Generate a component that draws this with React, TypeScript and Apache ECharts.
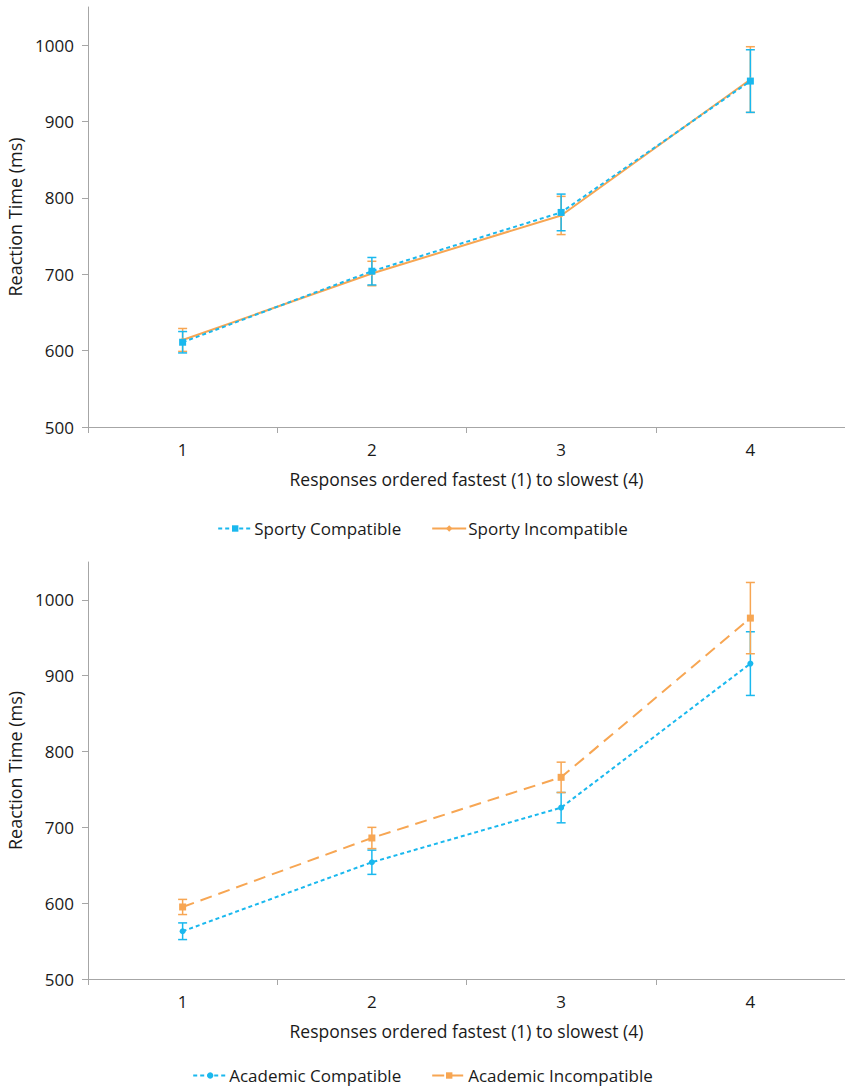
import React, { useEffect, useRef } from "react";
import * as echarts from "echarts";

const categories = ["1", "2", "3", "4"];
const yTicks = [500, 600, 700, 800, 900, 1000];

const sportyCompatible = [611, 704, 781, 953];
const sportyCompatibleErr = [14, 18, 24, 41];
const sportyIncompatible = [614, 701, 777, 955];
const sportyIncompatibleErr = [15, 16, 25, 43];

const academicCompatible = [563, 654, 726, 916];
const academicCompatibleErr = [11, 16, 20, 42];
const academicIncompatible = [595, 686, 766, 976];
const academicIncompatibleErr = [10, 14, 20, 47];

const CYAN = "#1AB8EE";
const ORANGE = "#F7A653";
const FONT = "Open Sans";
const TEXT = "#1a1a1a";
const AXIS = "#A6A6A6";

function errData(vals: number[], errs: number[]) {
  return vals.map((v, i) => [i, v - errs[i], v + errs[i]]);
}

function errSeries(name: string, vals: number[], errs: number[], color: string, gi: number) {
  return {
    type: "custom",
    name: name + " err",
    xAxisIndex: gi,
    yAxisIndex: gi,
    data: errData(vals, errs),
    z: 1,
    renderItem: (params: any, api: any) => {
      const x = api.value(0);
      const lo = api.coord([x, api.value(1)]);
      const hi = api.coord([x, api.value(2)]);
      const w = 4.5;
      const style = { stroke: color, lineWidth: 1.5 };
      return {
        type: "group",
        children: [
          { type: "line", shape: { x1: lo[0], y1: lo[1], x2: hi[0], y2: hi[1] }, style },
          { type: "line", shape: { x1: lo[0] - w, y1: lo[1], x2: lo[0] + w, y2: lo[1] }, style },
          { type: "line", shape: { x1: hi[0] - w, y1: hi[1], x2: hi[0] + w, y2: hi[1] }, style },
        ],
      };
    },
    silent: true,
  };
}

function lineSeries(name: string, vals: number[], color: string, gi: number, symbol: string, size: number, dash: any, z: number) {
  return {
    type: "line",
    name,
    xAxisIndex: gi,
    yAxisIndex: gi,
    data: vals,
    symbol,
    symbolSize: size,
    showSymbol: true,
    itemStyle: { color },
    lineStyle: { color, width: 2, type: dash },
    z,
  };
}

function xAxis(gi: number) {
  return {
    type: "category",
    gridIndex: gi,
    data: categories,
    boundaryGap: true,
    axisLine: { lineStyle: { color: AXIS, width: 1 } },
    axisTick: { show: true, alignWithLabel: false, length: 6, inside: false, lineStyle: { color: AXIS } },
    axisLabel: { color: TEXT, fontSize: 17, fontFamily: FONT, margin: 14 },
    name: "Responses ordered fastest (1) to slowest (4)",
    nameLocation: "middle",
    nameGap: 43,
    nameTextStyle: { color: TEXT, fontSize: 17.5, fontFamily: FONT, verticalAlign: "top" },
    splitLine: { show: false },
  };
}

function yAxis(gi: number) {
  return {
    type: "value",
    gridIndex: gi,
    min: 500,
    max: 1050,
    interval: 100,
    axisLine: { show: true, lineStyle: { color: AXIS, width: 1 } },
    axisTick: { show: true, length: 6, lineStyle: { color: AXIS }, customValues: yTicks },
    axisLabel: {
      color: TEXT,
      fontSize: 17,
      fontFamily: FONT,
      margin: 14,
      customValues: yTicks,
      formatter: (v: number) => String(v),
    },
    splitLine: { show: false },
    name: "Reaction Time (ms)",
    nameLocation: "middle",
    nameGap: 61,
    nameTextStyle: { color: TEXT, fontSize: 18, fontFamily: FONT },
  };
}

function legend(names: string[], top: number) {
  return {
    data: names,
    top,
    left: "center",
    itemWidth: 34,
    itemHeight: 8,
    itemGap: 30,
    textStyle: { color: TEXT, fontSize: 17, fontFamily: FONT, padding: [0, 0, 0, -3] },
  };
}

export default function App() {
  const ref = useRef<HTMLDivElement>(null);
  useEffect(() => {
    if (!ref.current) return;
    const chart = echarts.init(ref.current, undefined, { renderer: "svg" });
    chart.setOption({
      animation: false,
      backgroundColor: "#fff",
      grid: [
        { left: 88, top: 7, width: 757, height: 420, outerBoundsMode: "none", containLabel: false },
        { left: 88, top: 562, width: 757, height: 417, outerBoundsMode: "none", containLabel: false },
      ],
      xAxis: [xAxis(0), xAxis(1)],
      yAxis: [yAxis(0), yAxis(1)],
      legend: [
        legend(["Sporty Compatible", "Sporty Incompatible"], 515),
        legend(["Academic Compatible", "Academic Incompatible"], 1062),
      ],
      series: [
        errSeries("Sporty Incompatible", sportyIncompatible, sportyIncompatibleErr, ORANGE, 0),
        errSeries("Sporty Compatible", sportyCompatible, sportyCompatibleErr, CYAN, 0),
        lineSeries("Sporty Incompatible", sportyIncompatible, ORANGE, 0, "diamond", 5, "solid", 2),
        lineSeries("Sporty Compatible", sportyCompatible, CYAN, 0, "rect", 7, [4, 3], 3),
        errSeries("Academic Compatible", academicCompatible, academicCompatibleErr, CYAN, 1),
        errSeries("Academic Incompatible", academicIncompatible, academicIncompatibleErr, ORANGE, 1),
        lineSeries("Academic Compatible", academicCompatible, CYAN, 1, "circle", 6, [4, 3], 3),
        lineSeries("Academic Incompatible", academicIncompatible, ORANGE, 1, "rect", 7, [12, 7], 2),
      ],
    });
    return () => chart.dispose();
  }, []);
  return (
    <div
      ref={ref}
      style={{ position: "absolute", left: 0, top: 0, width: 845, height: 1092 }}
    />
  );
}
